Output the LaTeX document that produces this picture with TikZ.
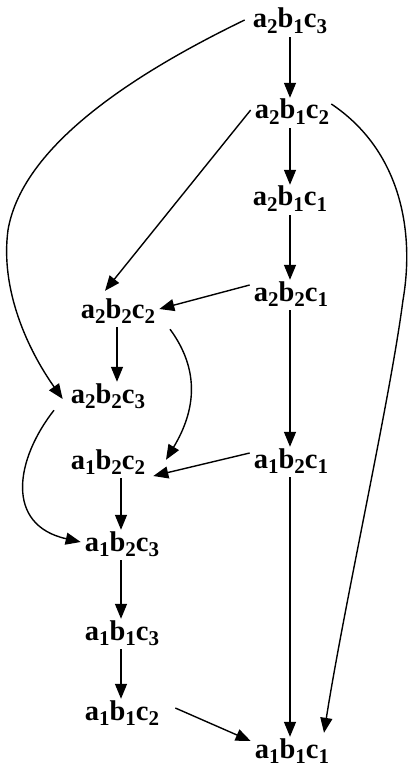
\documentclass[tikz,border=0pt]{standalone}
\usepackage{fontspec}
\setmainfont{Liberation Serif}
\usetikzlibrary{arrows.meta}
% state label a_i b_j c_k with lowered, slightly smaller indices
\newcommand\sidx[1]{\raisebox{-0.2em}{\fontsize{21}{21}\selectfont #1}}
\newcommand\st[3]{a\sidx{#1}b\sidx{#2}c\sidx{#3}}
\tikzset{
  state/.style={font=\fontsize{28.5}{29}\selectfont\bfseries, inner sep=4pt,
    text height=17pt, text depth=5pt},
  link/.style={line width=1.4pt, -{Triangle[length=15pt,width=12pt]}},
}
\begin{document}
\begin{tikzpicture}[x=1pt,y=-1pt]
\useasboundingbox (0,0) rectangle (409,767);
% states
\node[state] (n213) at (290,22)  {\st213};
\node[state] (n212) at (292,113) {\st212};
\node[state] (n211) at (290,200) {\st211};
\node[state] (n221) at (291,295) {\st221};
\node[state] (n222) at (118,312) {\st222};
\node[state] (n223) at (108,397) {\st223};
\node[state] (n121) at (291,462) {\st121};
\node[state] (n122) at (108,463) {\st122};
\node[state] (n123) at (122,545) {\st123};
\node[state] (n113) at (122,634) {\st113};
\node[state] (n112) at (122,714) {\st112};
\node[state] (n111) at (292,752) {\st111};
% straight transitions
\draw[link] (n213.south -| 290,0) -- (n212.north -| 290,0);
\draw[link] (n212.south -| 290,0) -- (n211.north -| 290,0);
\draw[link] (n211.south -| 290,0) -- (n221.north -| 290,0);
\draw[link] (n221.south -| 290,0) -- (n121.north -| 290,0);
\draw[link] (n121.south -| 290,0) -- (n111.north -| 290,0);
\draw[link] ([yshift=3pt]n212.west) -- ([xshift=-13pt,yshift=6pt]n222.north);
\draw[link] ([yshift=10pt]n221.west) -- ([yshift=3pt]n222.east);
\draw[link] ([yshift=9pt]n121.west) -- ([xshift=4pt,yshift=-13pt]n122.east);
\draw[link] (n222.south -| 117,0) -- (n223.north -| 117,0);
\draw[link] (n122.south -| 121,0) -- (n123.north -| 121,0);
\draw[link] (n123.south -| 121,0) -- (n113.north -| 121,0);
\draw[link] (n113.south -| 121,0) -- (n112.north -| 121,0);
\draw[link] ([xshift=12pt,yshift=6pt]n112.east) -- ([yshift=11pt]n111.west);
% curved transitions
\draw[link] ([xshift=-4pt,yshift=2pt]n213.west) .. controls (100,90) and (20,160) .. (8,230)
   .. controls (0,290) and (28,350) .. ([xshift=-4pt,yshift=-2pt]n223.west);
\draw[link] ([xshift=-2pt,yshift=9pt]n212.east) .. controls (400,150) and (415,230) .. (403,300)
   .. controls (390,400) and (345,600) .. ([xshift=32pt,yshift=4pt]n111.north);
\draw[link] ([xshift=52pt,yshift=-2pt]n222.south) .. controls (200,370) and (196,410) .. ([xshift=58pt,yshift=-12pt]n122.north);
\draw[link] ([xshift=-54pt,yshift=2pt]n223.south) .. controls (15,460) and (5,525) .. ([yshift=3pt]n123.west);
\end{tikzpicture}
\end{document}
